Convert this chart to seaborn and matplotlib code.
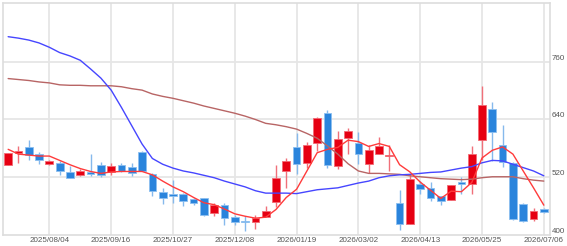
import numpy as np
import pandas as pd
import matplotlib
matplotlib.use('Agg')
import matplotlib.pyplot as plt
import seaborn as sns

# ==========================================
# データ（週足）
# ==========================================
tick_dates = ['2025/08/04', '2025/09/16', '2025/10/27', '2025/12/08', '2026/01/19',
              '2026/03/02', '2026/04/13', '2026/05/25', '2026/07/06']
tick_index = [4, 10, 16, 22, 28, 34, 40, 46, 52]

opens = [546, 571, 582, 568, 547, 549, 531, 525, 530, 545, 530, 546, 541, 573, 526, 489, 485, 485,
         475, 476, 446, 462, 438, 428, 427, 438, 468, 533, 582, 549, 591, 653, 543, 602, 591, 548,
         569, 564, 466, 423, 506, 497, 481, 473, 510, 506, 597, 662, 587, 549, 465, 433, 454]
highs = [571, 584, 598, 573, 555, 554, 544, 537, 568, 552, 550, 550, 549, 575, 528, 498, 514, 488,
         477, 477, 467, 467, 442, 440, 441, 461, 546, 559, 612, 593, 645, 660, 616, 623, 613, 587,
         604, 587, 493, 526, 512, 510, 482, 504, 521, 584, 709, 677, 628, 551, 466, 457, 456]
lows = [545, 550, 556, 547, 546, 525, 519, 523, 523, 521, 524, 530, 522, 532, 481, 465, 467, 461,
        463, 440, 440, 421, 421, 408, 413, 437, 459, 498, 526, 539, 575, 540, 537, 568, 547, 529,
        568, 532, 410, 422, 486, 470, 462, 472, 485, 486, 555, 554, 541, 432, 428, 429, 446]
closes = [570, 575, 566, 555, 553, 533, 519, 532, 527, 525, 544, 534, 528, 533, 492, 477, 481, 470,
          467, 442, 462, 436, 426, 427, 435, 449, 519, 553, 548, 587, 644, 546, 600, 616, 569, 577,
          585, 566, 423, 516, 496, 476, 470, 503, 506, 568, 671, 614, 551, 433, 429, 449, 447]

ma_short = [578, 568, 566, 564, 564, 555, 546, 538, 532, 528, 531, 532, 532, 532, 525, 512, 500, 490,
            478, 467, 463, 454, 444, 439, 435, 437, 453, 478, 495, 533, 571, 578, 582, 597, 594, 584,
            590, 584, 546, 531, 510, 493, 476, 491, 490, 509, 560, 576, 583, 568, 533, 498, 462]
ma_mid = [812, 809, 805, 799, 790, 779, 772, 763, 745, 726, 701, 665, 627, 589, 559, 547, 539, 533,
          529, 524, 519, 512, 506, 500, 492, 487, 487, 487, 486, 490, 494, 496, 498, 503, 508, 512,
          519, 523, 525, 526, 528, 530, 531, 535, 539, 542, 550, 555, 554, 547, 540, 533, 523]
ma_long = [725, 723, 721, 718, 716, 712, 711, 711, 710, 710, 710, 708, 704, 701, 693, 688, 684, 679,
           674, 668, 663, 658, 653, 647, 640, 632, 629, 625, 620, 611, 601, 585, 568, 548, 533, 528,
           528, 527, 526, 523, 521, 519, 517, 516, 515, 516, 519, 521, 521, 521, 517, 514, 512]

# ==========================================
# 可視化
# ==========================================
sns.set_style('white')
plt.rcParams['font.family'] = ['Liberation Sans', 'DejaVu Sans']

df = pd.DataFrame({'open': opens, 'high': highs, 'low': lows, 'close': closes,
                   'ma_short': ma_short, 'ma_mid': ma_mid, 'ma_long': ma_long})
df['idx'] = np.arange(len(df))
up = df['close'] >= df['open']

fig = plt.figure(figsize=(5.67, 2.46), dpi=100)
ax = fig.add_axes([3 / 567, 11 / 246, 547 / 567, 232 / 246])

# グリッド
for t in tick_index:
    ax.axvline(t, color='#e6e6e6', lw=1.3, zorder=0)
for v in [520, 640, 760]:
    ax.axhline(v, color='#e6e6e6', lw=1.3, zorder=0)

red, red_w = '#e60012', '#f0707a'
blue, blue_w = '#2a84dc', '#86b9ec'

# ひげ
ax.vlines(df.loc[up, 'idx'], df.loc[up, 'low'], df.loc[up, 'high'], color=red_w, lw=1, zorder=2)
ax.vlines(df.loc[~up, 'idx'], df.loc[~up, 'low'], df.loc[~up, 'high'], color=blue_w, lw=1, zorder=2)

# 実体
body_lo = df[['open', 'close']].min(axis=1)
body_h = (df['close'] - df['open']).abs().clip(lower=1.2)
ax.bar(df.loc[up, 'idx'], body_h[up], bottom=body_lo[up], width=0.75,
       color=red, edgecolor='#f26a74', lw=0.6, zorder=3)
ax.bar(df.loc[~up, 'idx'], body_h[~up], bottom=body_lo[~up], width=0.75,
       color=blue, edgecolor='#8cbff0', lw=0.6, zorder=3)

# 移動平均線
sns.lineplot(data=df, x='idx', y='ma_long', color='#b86565', lw=1, ax=ax, zorder=4)
sns.lineplot(data=df, x='idx', y='ma_mid', color='#4646ff', lw=1, ax=ax, zorder=4)
sns.lineplot(data=df, x='idx', y='ma_short', color='#ff3b3b', lw=1, ax=ax, zorder=5)

ax.set_xlim(-0.5, 52.6)
ax.set_ylim(400, 882)
ax.set_xticks(tick_index)
ax.set_xticklabels(tick_dates)
ax.yaxis.tick_right()
ax.set_yticks([400, 520, 640, 760])
ax.tick_params(axis='both', length=0, labelsize=5.8, colors='#555555', pad=1.5)
for lab in ax.get_yticklabels():
    lab.set_verticalalignment('bottom')
ax.set_xlabel('')
ax.set_ylabel('')
for s in ax.spines.values():
    s.set_color('#dddddd')
    s.set_linewidth(1.2)

fig.savefig('out.png', dpi=100)
